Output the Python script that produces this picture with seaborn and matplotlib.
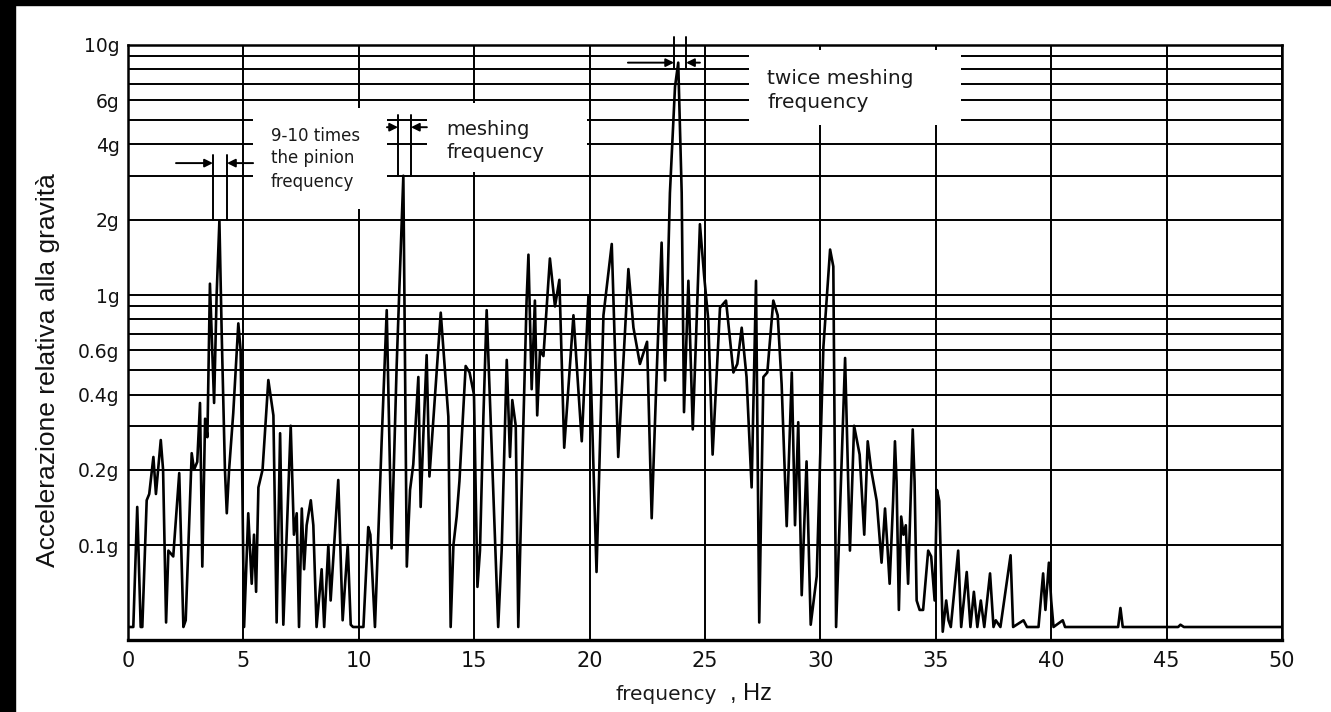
"""vibration spectrum of a gear drive - acceleration vs frequency"""

import matplotlib
matplotlib.use("Agg")
import matplotlib.pyplot as plt
import seaborn as sns
from matplotlib.patches import Rectangle

# trace (Hz, g)
freq = [
    0.0, 0.23, 0.4, 0.48, 0.55, 0.62, 0.81, 0.92, 1.1, 1.21, 1.42, 1.52, 1.65, 1.75, 1.96,
    2.22, 2.4, 2.5, 2.76, 2.86, 3.0, 3.12, 3.22, 3.34, 3.44, 3.55, 3.73, 3.84, 3.96, 4.06,
    4.2, 4.28, 4.38, 4.56, 4.78, 4.88, 5.03, 5.21, 5.36, 5.46, 5.55, 5.65, 5.83, 6.08, 6.3,
    6.44, 6.59, 6.73, 7.05, 7.19, 7.31, 7.41, 7.53, 7.63, 7.74, 7.92, 8.03, 8.17, 8.39, 8.5,
    8.68, 8.78, 9.11, 9.3, 9.52, 9.65, 9.75, 10.2, 10.41, 10.5, 10.7, 10.99, 11.21, 11.42,
    11.64, 11.93, 12.08, 12.22, 12.36, 12.58, 12.68, 12.8, 12.94, 13.06, 13.16, 13.55,
    13.88, 13.98, 14.1, 14.24, 14.36, 14.63, 14.8, 14.99, 15.14, 15.25, 15.4, 15.54, 15.71,
    16.04, 16.19, 16.41, 16.55, 16.65, 16.8, 16.91, 17.1, 17.27, 17.35, 17.49, 17.63, 17.73,
    17.85, 18.0, 18.28, 18.5, 18.69, 18.9, 19.3, 19.66, 19.95, 20.3, 20.6, 20.96, 21.24,
    21.68, 21.9, 22.18, 22.49, 22.69, 22.9, 23.12, 23.27, 23.48, 23.7, 23.84, 23.99, 24.09,
    24.28, 24.47, 24.64, 24.78, 24.96, 25.14, 25.33, 25.65, 25.91, 26.23, 26.4, 26.59, 26.8,
    27.02, 27.21, 27.35, 27.53, 27.7, 27.96, 28.15, 28.32, 28.54, 28.76, 28.9, 29.04, 29.19,
    29.4, 29.58, 29.84, 30.13, 30.42, 30.56, 30.68, 30.92, 31.07, 31.28, 31.46, 31.7, 31.9,
    32.05, 32.2, 32.44, 32.65, 32.8, 32.9, 33.0, 33.15, 33.23, 33.3, 33.4, 33.5, 33.6, 33.7,
    33.8, 34.0, 34.08, 34.17, 34.3, 34.45, 34.67, 34.8, 34.95, 35.05, 35.15, 35.3, 35.45,
    35.55, 35.65, 35.97, 36.1, 36.34, 36.5, 36.65, 36.8, 36.95, 37.1, 37.35, 37.5, 37.6,
    37.8, 38.24, 38.35, 38.8, 38.95, 39.45, 39.65, 39.75, 39.9, 40.0, 40.1, 40.5, 40.6,
    42.9, 43.0, 43.1, 45.5, 45.6, 45.75, 50.0,
]
accel = [
    0.047, 0.047, 0.142, 0.079, 0.047, 0.047, 0.151, 0.16, 0.225, 0.16, 0.263, 0.2, 0.049, 0.095, 0.09,
    0.194, 0.047, 0.05, 0.233, 0.2, 0.215, 0.37, 0.082, 0.32, 0.27, 1.11, 0.37, 1.0, 1.98, 0.7,
    0.2, 0.134, 0.2, 0.337, 0.77, 0.6, 0.047, 0.134, 0.07, 0.11, 0.065, 0.17, 0.2, 0.457, 0.33,
    0.049, 0.28, 0.048, 0.3, 0.11, 0.134, 0.047, 0.14, 0.08, 0.12, 0.151, 0.12, 0.047, 0.08, 0.047,
    0.1, 0.06, 0.182, 0.05, 0.1, 0.048, 0.047, 0.047, 0.118, 0.11, 0.047, 0.26, 0.87, 0.097,
    0.52, 3.0, 0.082, 0.166, 0.21, 0.47, 0.142, 0.28, 0.575, 0.188, 0.256, 0.85,
    0.326, 0.047, 0.1, 0.13, 0.18, 0.52, 0.49, 0.4, 0.068, 0.095, 0.33, 0.87, 0.32,
    0.047, 0.095, 0.55, 0.225, 0.38, 0.3, 0.047, 0.24, 0.95, 1.45, 0.42, 0.95, 0.33,
    0.6, 0.57, 1.4, 0.9, 1.15, 0.245, 0.83, 0.26, 0.99, 0.078, 0.83, 1.6, 0.225,
    1.27, 0.74, 0.53, 0.65, 0.128, 0.47, 1.62, 0.455, 2.56, 6.8, 8.5, 2.56, 0.34,
    1.14, 0.29, 0.8, 1.92, 1.2, 0.8, 0.23, 0.89, 0.95, 0.49, 0.53, 0.74, 0.47,
    0.17, 1.14, 0.049, 0.47, 0.49, 0.95, 0.83, 0.44, 0.119, 0.49, 0.12, 0.31, 0.063,
    0.216, 0.048, 0.075, 0.62, 1.52, 1.3, 0.047, 0.216, 0.56, 0.095, 0.3, 0.23, 0.11,
    0.26, 0.2, 0.15, 0.085, 0.14, 0.1, 0.07, 0.15, 0.26, 0.18, 0.055, 0.13, 0.11, 0.12,
    0.07, 0.29, 0.18, 0.06, 0.055, 0.055, 0.095, 0.09, 0.06, 0.166, 0.15, 0.045, 0.06,
    0.05, 0.047, 0.095, 0.047, 0.078, 0.047, 0.065, 0.047, 0.06, 0.047, 0.077, 0.047, 0.05,
    0.047, 0.091, 0.047, 0.05, 0.047, 0.047, 0.077, 0.055, 0.085, 0.06, 0.047, 0.05, 0.047,
    0.047, 0.056, 0.047, 0.047, 0.048, 0.047, 0.047,
]

x_ticks = [0, 5, 10, 15, 20, 25, 30, 35, 40, 45, 50]
y_grid = [0.1, 0.2, 0.3, 0.4, 0.5, 0.6, 0.7, 0.8, 0.9, 1, 2, 3, 4, 5, 6, 7, 8, 9, 10]
y_labels = {0.1: "0.1g", 0.2: "0.2g", 0.4: "0.4g", 0.6: "0.6g", 1: "1g",
            2: "2g", 4: "4g", 6: "6g", 10: "10g"}

sns.set_style("white")
plt.rcParams["font.family"] = ["DejaVu Sans"]

W, H = 1331, 712
fig = plt.figure(figsize=(W / 100, H / 100), dpi=100)
ax = fig.add_axes([128 / W, 1 - 640 / H, (1282 - 128) / W, (640 - 45) / H])

sns.lineplot(x=freq, y=accel, ax=ax, estimator=None, sort=False,
             color="black", lw=1.9, zorder=2)

ax.set_yscale("log")
ax.set_xlim(0, 50)
ax.set_ylim(0.0417, 10)
ax.yaxis.set_minor_locator(matplotlib.ticker.NullLocator())
ax.set_yticks(y_grid)
ax.set_yticklabels([y_labels.get(v, "") for v in y_grid], fontsize=13.5)
ax.set_xticks(x_ticks)
ax.set_xticklabels([str(v) for v in x_ticks], fontsize=15)
ax.tick_params(axis="both", length=0, colors="#111111")
ax.tick_params(axis="y", pad=6)
ax.tick_params(axis="x", pad=8)
ax.grid(True, color="black", lw=1.4)
ax.set_axisbelow(True)
for s in ax.spines.values():
    s.set_color("black")
    s.set_linewidth(1.8)
ax.spines["bottom"].set_linewidth(2.4)
ax.set_xlabel("")
ax.set_ylabel("")

# white label boxes laid over the grid
boxes = [(5.42, 2.2, 11.22, 5.6), (12.95, 3.1, 19.9, 5.85), (26.9, 4.79, 36.1, 9.55)]
for x0, y0, x1, y1 in boxes:
    ax.add_patch(Rectangle((x0, y0), x1 - x0, y1 - y0, facecolor="white",
                           edgecolor="none", zorder=3))

txt = dict(transform=ax.transData, color="#1a1a1a", va="baseline", zorder=5)
ax.text(6.2, 4.13, "9-10 times", fontsize=12, **txt)
ax.text(6.2, 3.37, "the pinion", fontsize=12, **txt)
ax.text(6.2, 2.71, "frequency", fontsize=12, **txt)
ax.text(13.78, 4.37, "meshing", fontsize=14, **txt)
ax.text(13.78, 3.53, "frequency", fontsize=14, **txt)
ax.text(27.69, 7.01, "twice meshing", fontsize=14.5, **txt)
ax.text(27.69, 5.6, "frequency", fontsize=14.5, **txt)

# dimension marks around the three peaks
marks = [
    (3.68, 4.29, 2.0, 3.63, 3.37, 2.08, 5.42),
    (11.7, 12.26, 3.0, 5.25, 4.69, 11.22, 12.95),
    (23.66, 24.18, 8.1, 10.8, 8.5, 21.66, 24.78),
]
for xa, xb, ylo, yhi, ya, xl, xr in marks:
    ax.plot([xa, xa], [ylo, yhi], color="black", lw=1.4, zorder=4, clip_on=False)
    ax.plot([xb, xb], [ylo, yhi], color="black", lw=1.4, zorder=4, clip_on=False)
    arrow = dict(arrowstyle="-|>", color="black", lw=1.4, mutation_scale=12,
                 shrinkA=0, shrinkB=0)
    ax.annotate("", xy=(xa, ya), xytext=(xl, ya), arrowprops=arrow, zorder=4)
    ax.annotate("", xy=(xb, ya), xytext=(xr, ya), arrowprops=arrow, zorder=4)

fig.text(48 / W, 1 - 370 / H, "Accelerazione relativa alla gravità", rotation=90,
         ha="center", va="center", fontsize=19, family=["Liberation Sans"],
         color="#111111")
fig.text(615 / W, 1 - 700 / H, "frequency", fontsize=14.5, va="baseline",
         color="#1a1a1a")
fig.text(730 / W, 1 - 700 / H, ", Hz", fontsize=17, va="baseline",
         family=["Liberation Sans"], color="#111111")

# dark scan borders
fig.add_artist(Rectangle((0, 0), 15 / W, 1, transform=fig.transFigure,
                         color="black", zorder=10))
fig.add_artist(Rectangle((0, 1 - 5 / H), 1, 5 / H, transform=fig.transFigure,
                         color="black", zorder=10))

fig.savefig("out.png", dpi=100, facecolor="white")
plt.close(fig)
